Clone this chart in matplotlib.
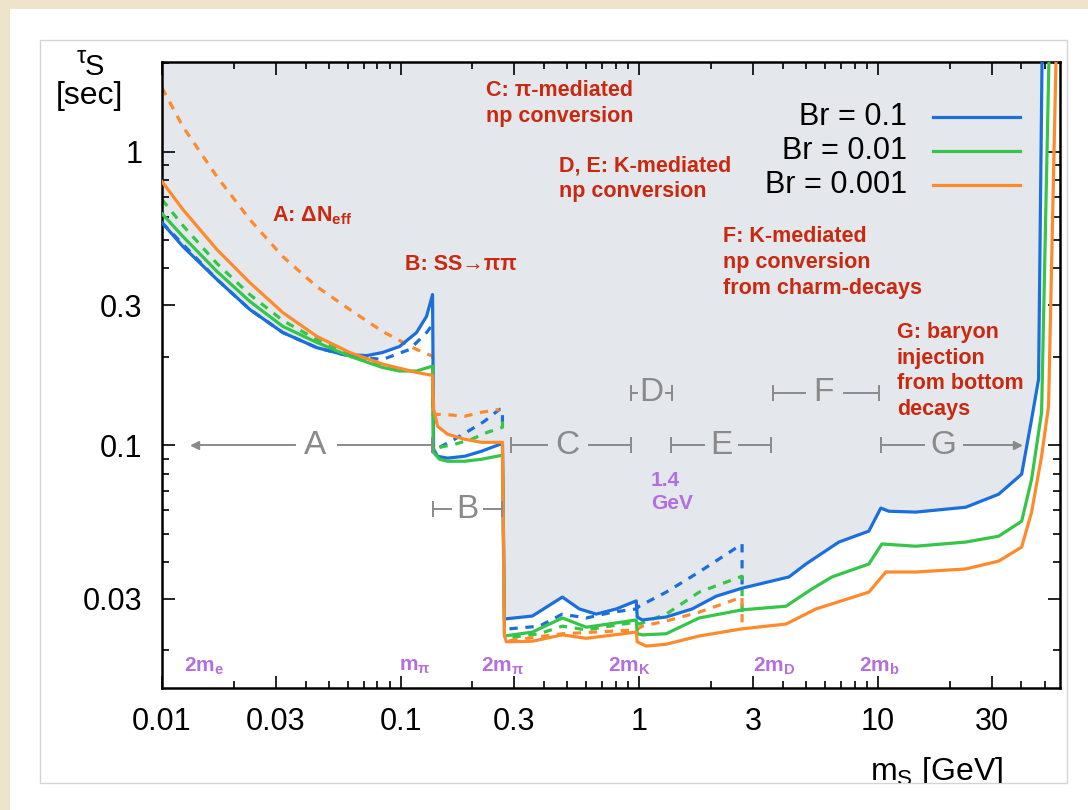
import matplotlib.pyplot as plt
import numpy as np
from matplotlib.patches import Rectangle
from matplotlib.ticker import FixedLocator, FixedFormatter, NullFormatter
from matplotlib.transforms import Bbox, TransformedBbox

plt.rcParams["font.family"] = ["Liberation Sans", "DejaVu Sans"]
plt.rcParams["mathtext.fontset"] = "custom"
plt.rcParams["mathtext.rm"] = "Liberation Sans:bold"
plt.rcParams["mathtext.it"] = "Liberation Sans:bold"
plt.rcParams["mathtext.bf"] = "Liberation Sans:bold"
plt.rcParams["mathtext.sf"] = "Liberation Sans"

nan = np.nan

# --- lifetime bounds, solid lines (m_S in GeV, tau_S in sec) ---
blue_m = [0.0100, 0.01224, 0.01699, 0.02334, 0.03209, 0.04452, 0.05719, 0.07209, 0.08409,
          0.09904, 0.1166, 0.1285, 0.1361,
          0.1375, 0.1428, 0.1573, 0.1853, 0.2183, 0.2672,
          0.2723, 0.3566, 0.4763, 0.5610, 0.6607, 0.8012, 0.9714, 0.9808, 1.030, 1.297,
          1.667, 2.100, 2.698, 4.243, 4.995, 6.868, 9.170, 10.29, 11.12, 14.42, 23.35,
          32.08, 40.06, 44.10, 47.17, 48.9]
blue_tau = [0.573, 0.475, 0.367, 0.290, 0.242, 0.215, 0.204, 0.202, 0.207,
            0.217, 0.242, 0.275, 0.326,
            0.0969, 0.0917, 0.0904, 0.0917, 0.0954, 0.1015,
            0.0256, 0.0262, 0.0304, 0.0277, 0.0266, 0.0277, 0.0295, 0.0260, 0.0254, 0.0260,
            0.0277, 0.0306, 0.0326, 0.0356, 0.0394, 0.0468, 0.0510, 0.0611, 0.0596, 0.0592, 0.0615,
            0.0681, 0.0797, 0.1226, 0.168, 2.5]

green_m = [0.0100, 0.01224, 0.01699, 0.02334, 0.03209, 0.04452, 0.06117, 0.08409, 0.09904,
           0.1166, 0.1361,
           0.1370, 0.1456, 0.1573, 0.1853, 0.2183, 0.2672,
           0.2723, 0.3566, 0.4763, 0.6003, 0.9714, 0.9808, 1.030, 1.297, 1.782, 2.698,
           4.122, 5.294, 6.421, 9.170, 10.39, 14.42, 23.35, 32.08, 40.06, 44.10, 48.56, 52.4]
green_tau = [0.615, 0.514, 0.391, 0.309, 0.254, 0.224, 0.201, 0.184, 0.179,
             0.179, 0.186,
             0.0947, 0.0896, 0.0882, 0.0882, 0.0896, 0.0925,
             0.0224, 0.0231, 0.0258, 0.0240, 0.0254, 0.0228, 0.0226, 0.0228, 0.0258, 0.0275,
             0.0283, 0.0324, 0.0356, 0.0394, 0.0461, 0.0453, 0.0468, 0.0490, 0.0551, 0.0766, 0.1295, 2.5]

orange_m = [0.0100, 0.01224, 0.01699, 0.02334, 0.03209, 0.04452, 0.06117, 0.08409, 0.1166, 0.1361,
            0.1375, 0.1428, 0.1573, 0.1853, 0.2183, 0.2672,
            0.2723, 0.2776, 0.3566, 0.4763, 0.6003, 0.9714, 0.9808, 1.070, 1.297, 1.782, 2.698,
            4.122, 5.503, 9.170, 10.80, 14.42, 23.35, 32.08, 40.06, 44.10, 48.56, 51.94, 56.1]
orange_tau = [0.791, 0.635, 0.464, 0.358, 0.283, 0.235, 0.207, 0.189, 0.177, 0.173,
              0.1325, 0.1161, 0.1090, 0.1048, 0.1023, 0.1023,
              0.0225, 0.0214, 0.0215, 0.0226, 0.0220, 0.0231, 0.0214, 0.0207, 0.0210, 0.0224, 0.0237,
              0.0246, 0.0277, 0.0316, 0.0370, 0.0370, 0.0379, 0.0403, 0.0450, 0.0592, 0.0918, 0.136, 2.5]

# --- dashed lines (nan separates pieces) ---
blue_d_m = [0.0100, 0.01699, 0.02334, 0.03209, 0.04452, 0.06117, 0.08409, 0.1091, 0.1285, 0.1361, nan,
            0.1456, 0.1682, 0.1982, 0.2246, 0.2595, 0.2672, 0.2672, nan,
            0.2858, 0.3816, 0.4763, 0.6003, 0.7711, 0.9714, 1.000, 1.297, 1.782, 2.698, 2.698]
blue_d_tau = [0.573, 0.367, 0.290, 0.242, 0.215, 0.201, 0.196, 0.212, 0.242, 0.258, nan,
              0.0984, 0.1048, 0.1134, 0.1207, 0.1325, 0.1325, 0.1197, nan,
              0.0237, 0.0242, 0.0266, 0.0258, 0.0270, 0.0277, 0.0283, 0.0316, 0.0370, 0.0461, 0.0331]

green_d_m = [0.0100, 0.01224, 0.01699, 0.02334, 0.03209, 0.04452, 0.06117, 0.08409, 0.09904, nan,
             0.1456, 0.1682, 0.1982, 0.2312, 0.2672, 0.2672, nan,
             0.2942, 0.3816, 0.4763, 0.6003, 0.9714, 1.000, 1.297, 1.782, 2.698, 2.698]
green_d_tau = [0.687, 0.560, 0.416, 0.326, 0.266, 0.229, 0.204, 0.187, 0.181, nan,
               0.0984, 0.1007, 0.1048, 0.1107, 0.1151, 0.1245, nan,
               0.0222, 0.0228, 0.0242, 0.0235, 0.0250, 0.0246, 0.0266, 0.0316, 0.0358, 0.0270]

orange_d_m = [0.0100, 0.01224, 0.01699, 0.02334, 0.03209, 0.04452, 0.06117, 0.08409, 0.1166, 0.1361,
              0.1361, 0.1528, 0.1853, 0.2183, 0.2595, nan,
              0.2858, 0.4763, 0.9714, 1.030, 1.297, 1.782, 2.698, 2.698]
orange_d_tau = [1.651, 1.216, 0.822, 0.587, 0.439, 0.347, 0.290, 0.244, 0.212, 0.201,
                0.1274, 0.1274, 0.1255, 0.1295, 0.1325, nan,
                0.0216, 0.0228, 0.0235, 0.0242, 0.0252, 0.0270, 0.0304, 0.0237]

br_labels = ["Br = 0.1", "Br = 0.01", "Br = 0.001"]
x_ticks = [0.01, 0.03, 0.1, 0.3, 1, 3, 10, 30]
x_ticklabels = ["0.01", "0.03", "0.1", "0.3", "1", "3", "10", "30"]
y_ticks = [0.03, 0.1, 0.3, 1]
y_ticklabels = ["0.03", "0.1", "0.3", "1"]

# mass thresholds shown along the bottom
thresh_labels = ["2m$_\\mathrm{e}$", "m$_\\mathrm{π}$", "2m$_\\mathrm{π}$", "2m$_\\mathrm{K}$",
                 "2m$_\\mathrm{D}$", "2m$_\\mathrm{b}$"]
thresh_m = [0.0150, 0.1146, 0.267, 0.908, 3.67, 10.1]

# region ranges: label, tau, left end, gap left, text, gap right, right end, end styles
regions = [
    ("A", 0.1, 0.0137, 0.036, 0.044, 0.0545, 0.135, "<", "|"),
    ("B", 0.0606, 0.1371, 0.163, 0.1905, 0.2246, 0.267, "|", "|"),
    ("C", 0.1, 0.291, 0.412, 0.500, 0.618, 0.927, "|", "|"),
    ("D", 0.151, 0.92, 0.975, 1.12, 1.29, 1.37, "|", "|"),
    ("E", 0.1, 1.36, 1.87, 2.22, 2.62, 3.56, "|", "|"),
    ("F", 0.151, 3.64, 4.95, 5.94, 7.21, 10.1, "|", "|"),
    ("G", 0.1, 10.3, 15.6, 18.9, 22.9, 38.2, "|", ">"),
]

BLUE = "#1b6fdc"
GREEN = "#35c548"
ORANGE = "#ff8a2b"
RED = "#c9290f"
PURPLE = "#b36ee0"
GREY = "#8a8a8a"

fig = plt.figure(figsize=(10.88, 8.10), dpi=100)
fig.patch.set_facecolor("#eee4cb")
fig.add_artist(Rectangle((10 / 1088, 0), 1, 1 - 9 / 810, transform=fig.transFigure,
                         facecolor="white", edgecolor="none", zorder=-10))
card = Rectangle((40 / 1088, 27 / 810), 1027 / 1088, 743 / 810, transform=fig.transFigure,
                 facecolor="none", edgecolor="#d4d4d4", lw=1.0, zorder=-5)
fig.add_artist(card)

ax = fig.add_axes([162 / 1088, 1 - 688 / 810, 898 / 1088, 626 / 810])
ax.set_xscale("log")
ax.set_yscale("log")
ax.set_xlim(0.01, 58)
ax.set_ylim(0.0149, 2.02)
ax.set_facecolor("white")

# shaded excluded region above the upper solid boundary
bm, bt = np.array(blue_m), np.array(blue_tau)
om, ot = np.array(orange_m), np.array(orange_tau)
sel_a = bm < 0.137
sel_b = (om >= 0.136) & (om < 0.27)
sel_c = bm > 0.27
edge_m = np.concatenate([bm[sel_a], om[sel_b], bm[sel_c]])
edge_t = np.concatenate([bt[sel_a], ot[sel_b], bt[sel_c]])
ax.fill_between(edge_m, edge_t, 10, color="#e4e7eb", lw=0, zorder=0)

lw = 2.3
dash = (2.6, 2.4)
ax.plot(blue_d_m, blue_d_tau, color=BLUE, lw=lw, dashes=dash, zorder=2)
ax.plot(green_d_m, green_d_tau, color=GREEN, lw=lw, dashes=dash, zorder=2)
ax.plot(orange_d_m, orange_d_tau, color=ORANGE, lw=lw, dashes=dash, zorder=2)
ax.plot(blue_m, blue_tau, color=BLUE, lw=lw, zorder=3)
ax.plot(green_m, green_tau, color=GREEN, lw=lw, zorder=3)
ax.plot(orange_m, orange_tau, color=ORANGE, lw=lw, zorder=3)

# region markers
for lab, y, x0, g0, xt, g1, x1, s0, s1 in regions:
    ax.plot([x0, g0], [y, y], color=GREY, lw=1.4, zorder=4)
    ax.plot([g1, x1], [y, y], color=GREY, lw=1.4, zorder=4)
    for xe, st in ((x0, s0), (x1, s1)):
        if st == "|":
            ax.plot([xe], [y], marker="|", ms=11, mew=1.4, color=GREY, zorder=4)
        else:
            ax.plot([xe], [y], marker=st, ms=6, color=GREY, mec=GREY, zorder=4)
    ax.text(xt, y, lab, color=GREY, fontsize=24, ha="center", va="center", zorder=4)

# red annotations
red_kw = dict(color=RED, fontsize=15.5, fontweight="bold", linespacing=1.3, zorder=5)
ax.text(0.229, 1.46, "C: π-mediated\nnp conversion", va="center", **red_kw)
ax.text(0.462, 0.81, "D, E: K-mediated\nnp conversion", va="center", **red_kw)
ax.text(0.0288, 0.578, "A: ΔN$_\\mathrm{eff}$", va="baseline", **red_kw)
ax.text(0.104, 0.394, "B: SS→ππ", va="baseline", **red_kw)
ax.text(2.25, 0.419, "F: K-mediated\nnp conversion\nfrom charm-decays", va="center", **red_kw)
ax.text(12.0, 0.179, "G: baryon\ninjection\nfrom bottom\ndecays", va="center", **red_kw)

# purple thresholds
for lab, xm in zip(thresh_labels, thresh_m):
    ax.text(xm, 0.0176, lab, color=PURPLE, fontsize=15, fontweight="bold",
            ha="center", va="center", zorder=5)
ax.text(1.12, 0.0692, "1.4\nGeV", color=PURPLE, fontsize=15, fontweight="bold",
        ha="left", va="center", linespacing=1.25, zorder=5)

# legend, labels left of the line samples
for lab, col, yf in zip(br_labels, [BLUE, GREEN, ORANGE], [0.9121, 0.8578, 0.8035]):
    ax.text(0.8296, yf, lab, transform=ax.transAxes, fontsize=22, ha="right", va="center", zorder=6)
    ax.plot([0.8586, 0.9555], [yf, yf], transform=ax.transAxes, color=col, lw=lw, zorder=6)

# axes and ticks
for sp in ax.spines.values():
    sp.set_linewidth(1.8)
ax.xaxis.set_major_locator(FixedLocator(x_ticks))
ax.xaxis.set_major_formatter(FixedFormatter(x_ticklabels))
ax.yaxis.set_major_locator(FixedLocator(y_ticks))
ax.yaxis.set_major_formatter(FixedFormatter(y_ticklabels))
xminor = [k * d for d in (0.01, 0.1, 1, 10) for k in (2, 4, 5, 6, 7, 8, 9) if k * d < 58]
yminor = [k * d for d in (0.01, 0.1, 1) for k in (2, 4, 5, 6, 7, 8, 9) if 0.0149 < k * d < 2.02]
ax.xaxis.set_minor_locator(FixedLocator(xminor))
ax.yaxis.set_minor_locator(FixedLocator(yminor))
ax.xaxis.set_minor_formatter(NullFormatter())
ax.yaxis.set_minor_formatter(NullFormatter())
ax.tick_params(which="both", direction="in", top=True, right=True, width=1.2)
ax.tick_params(which="major", length=9, labelsize=22, pad=14)
ax.tick_params(which="minor", length=5)

# axis titles
fig.text(81 / 1088, 1 - 57 / 810, "τ", fontsize=17, ha="center", va="center")
fig.text(94 / 1088, 1 - 67 / 810, "S", fontsize=21, ha="center", va="center")
fig.text(89 / 1088, 1 - 96 / 810, "[sec]", fontsize=23, ha="center", va="center")
xl = fig.text(937 / 1088, 1 - 780 / 810, "m$_\\mathsf{S}$ [GeV]", fontsize=23,
              ha="center", va="baseline")
xl.set_clip_box(TransformedBbox(Bbox([[40 / 1088, 27 / 810], [1067 / 1088, 1]]), fig.transFigure))
xl.set_clip_on(True)

fig.savefig("out.png", dpi=100)
